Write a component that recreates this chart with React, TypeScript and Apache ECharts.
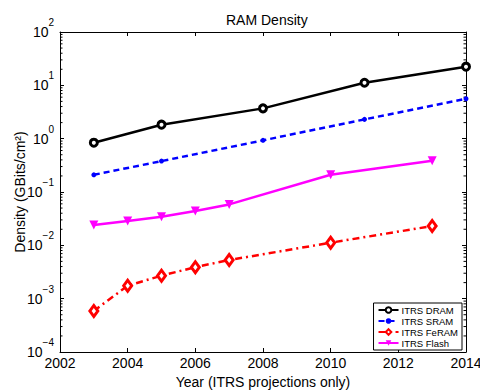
import React, { useEffect, useRef } from "react";
import * as echarts from "echarts";

const dramYears = [2003, 2005, 2008, 2011, 2014];
const dramValues = [0.84, 1.83, 3.7, 11.2, 22.4];
const sramYears = [2003, 2005, 2008, 2011, 2014];
const sramValues = [0.21, 0.38, 0.93, 2.3, 5.6];
const feramYears = [2003, 2004, 2005, 2006, 2007, 2010, 2013];
const feramValues = [0.00059, 0.00175, 0.0027, 0.0039, 0.0053, 0.0112, 0.023];
const flashYears = [2003, 2004, 2005, 2006, 2007, 2010, 2013];
const flashValues = [0.024, 0.0286, 0.0344, 0.044, 0.0585, 0.21, 0.387];

const decades = [0.0001, 0.001, 0.01, 0.1, 1, 10];
const minorMultipliers = [2, 3, 4, 5, 6, 7, 8, 9];

const xMin = 2002;
const xMax = 2014;
const yMin = 0.0001;
const yMax = 100;

const FONT = "Liberation Sans, Arial, Helvetica, sans-serif";

const pairs = (xs: number[], ys: number[]) => xs.map((x, i) => [x, ys[i]]);

export default function App() {
  const ref = useRef<HTMLDivElement>(null);
  useEffect(() => {
    if (!ref.current) return;
    const chart = echarts.init(ref.current, undefined, { renderer: "svg" });
    const minorVals: number[] = [];
    decades.forEach((d) => minorMultipliers.forEach((m) => minorVals.push(m * d)));

    const logLabel = (v: number) => {
      const e = Math.round(Math.log10(v));
      const s = e < 0 ? "\u2212" + Math.abs(e) : String(e);
      return `{b|10}{e|${s}}`;
    };

    const option: any = {
      animation: false,
      backgroundColor: "#fff",
      textStyle: { fontFamily: FONT },
      title: {
        text: "RAM Density",
        left: 221,
        top: 8,
        textStyle: { fontSize: 14, fontWeight: "normal", color: "#000", fontFamily: FONT },
      },
      grid: { left: 60, right: 14, top: 32, bottom: 39, containLabel: false, outerBoundsMode: "none" },
      legend: {
        data: ["ITRS DRAM", "ITRS SRAM", "ITRS FeRAM", "ITRS Flash"],
        orient: "vertical",
        right: 18,
        bottom: 41,
        itemGap: 1,
        itemWidth: 20,
        itemHeight: 7,
        padding: [2, 4, 2, 4],
        borderColor: "#000",
        borderWidth: 1,
        borderRadius: 0,
        backgroundColor: "#fff",
        textStyle: { fontSize: 9.5, color: "#000", fontFamily: FONT, padding: [0, 0, 0, -2] },
      },
      xAxis: [
        {
          type: "value",
          min: xMin,
          max: xMax,
          interval: 2,
          name: "Year (ITRS projections only)",
          nameLocation: "middle",
          nameGap: 23,
          nameMoveOverlap: false,
          nameTextStyle: { fontSize: 14, color: "#000", fontFamily: FONT },
          axisLine: { lineStyle: { color: "#000", width: 1 } },
          axisTick: { inside: true, length: 4, lineStyle: { color: "#000" } },
          axisLabel: {
            fontSize: 14,
            color: "#000",
            margin: 4,
            fontFamily: FONT,
            formatter: (v: number) => String(v),
          },
          splitLine: { show: false },
        },
        {
          type: "value",
          position: "top",
          min: xMin,
          max: xMax,
          interval: 2,
          axisLine: { lineStyle: { color: "#000", width: 1 } },
          axisTick: { inside: true, length: 4, lineStyle: { color: "#000" } },
          axisLabel: { show: false },
          splitLine: { show: false },
        },
      ],
      yAxis: [
        {
          type: "log",
          logBase: 10,
          min: yMin,
          max: yMax,
          name: "Density (GBits/cm\u00B2)",
          nameLocation: "middle",
          nameGap: 33,
          nameMoveOverlap: false,
          nameTextStyle: { fontSize: 14, color: "#000", fontFamily: FONT },
          axisLine: { show: true, lineStyle: { color: "#000", width: 1 } },
          axisTick: { inside: true, length: 4, lineStyle: { color: "#000" } },
          axisLabel: {
            margin: 6,
            color: "#000",
            formatter: logLabel,
            rich: {
              b: { fontSize: 14, lineHeight: 29, color: "#000", fontFamily: FONT },
              e: { fontSize: 10, lineHeight: 10, verticalAlign: "top", color: "#000", fontFamily: FONT },
            },
          },
          splitLine: { show: false },
        },
        {
          type: "log",
          logBase: 10,
          min: yMin,
          max: yMax,
          position: "right",
          axisLine: { show: true, lineStyle: { color: "#000", width: 1 } },
          axisTick: { inside: true, length: 4, lineStyle: { color: "#000" } },
          axisLabel: { show: false },
          splitLine: { show: false },
        },
      ],
      series: [
        {
          type: "custom",
          name: "minorTicks",
          silent: true,
          clip: false,
          data: minorVals.map((v) => [v]),
          renderItem: (_params: any, api: any) => {
            const v = api.value(0);
            const l = api.coord([xMin, v]);
            const r = api.coord([xMax, v]);
            return {
              type: "group",
              children: [
                { type: "line", shape: { x1: l[0], y1: l[1], x2: l[0] + 2.5, y2: l[1] }, style: { stroke: "#000", lineWidth: 1 } },
                { type: "line", shape: { x1: r[0], y1: r[1], x2: r[0] - 2.5, y2: r[1] }, style: { stroke: "#000", lineWidth: 1 } },
              ],
            };
          },
          encode: { y: 0 },
          z: 1,
        },
        {
          name: "ITRS DRAM",
          type: "line",
          data: pairs(dramYears, dramValues),
          lineStyle: { color: "#000", width: 2.5 },
          itemStyle: { color: "#fff", borderColor: "#000", borderWidth: 3 },
          symbol: "circle",
          symbolSize: 7,
          z: 5,
        },
        {
          name: "ITRS SRAM",
          type: "line",
          data: pairs(sramYears, sramValues),
          lineStyle: { color: "#0000ff", width: 2.5, type: [6, 4] },
          itemStyle: { color: "#0000ff" },
          symbol: "circle",
          symbolSize: 5,
          z: 5,
        },
        {
          name: "ITRS FeRAM",
          type: "line",
          data: pairs(feramYears, feramValues),
          lineStyle: { color: "#ff0000", width: 2.5, type: [7, 4, 2, 4] },
          itemStyle: { color: "#fff", borderColor: "#ff0000", borderWidth: 3 },
          symbol: "diamond",
          symbolSize: [8, 11],
          z: 5,
        },
        {
          name: "ITRS Flash",
          type: "line",
          data: pairs(flashYears, flashValues),
          lineStyle: { color: "#ff00ff", width: 2.5 },
          itemStyle: { color: "#ff00ff" },
          symbol: "triangle",
          symbolRotate: 180,
          symbolSize: 9,
          z: 5,
        },
      ],
    };
    chart.setOption(option);
    return () => chart.dispose();
  }, []);
  return <div ref={ref} style={{ width: 480, height: 391, position: "fixed", left: 0, top: 0 }} />;
}
